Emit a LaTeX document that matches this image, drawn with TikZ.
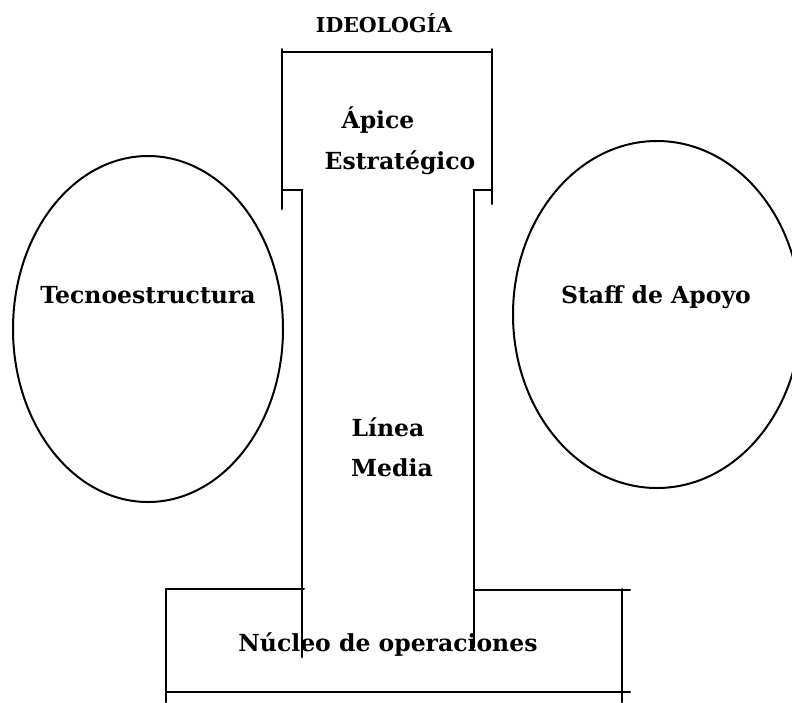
\documentclass[tikz,border=0pt]{standalone}
\usepackage{fontspec}
\setmainfont{DejaVu Serif}
\usetikzlibrary{shapes.geometric}
\begin{document}
\begin{tikzpicture}[x=1pt,y=-1pt,
  ln/.style={line width=2pt,line cap=round},
  lbl/.style={font=\bfseries\fontsize{23.5}{28}\selectfont,inner sep=0pt},
  oval/.style={draw,ellipse,line width=2pt,inner sep=0pt}]
\useasboundingbox (0,0) rectangle (792,702);
% top box
\draw[ln] (282,49) -- (282,209);
\draw[ln] (282,52) -- (492,52);
\draw[ln] (492,49) -- (492,204);
\draw[ln] (282,190) -- (302,190) -- (302,657);
\draw[ln] (492,190) -- (474,190) -- (474,647);
% bottom box
\draw[ln] (166,589) -- (304,589);
\draw[ln] (474,590) -- (630,590);
\draw[ln] (166,589) -- (166,702);
\draw[ln] (622,589) -- (622,702);
\draw[ln] (166,692) -- (630,692);
% ellipses
\node[oval,minimum width=270pt,minimum height=346pt] (tec) at (148,329) {};
\node[oval,minimum width=288pt,minimum height=347pt] (staff) at (657,314.5) {};
% labels
\node[lbl,font=\bfseries\fontsize{20.5}{24}\selectfont] (ideo) at (384,23) {IDEOLOGÍA};
\node[lbl] (apice) at (378,120) {Ápice};
\node[lbl] (estr) at (400,163) {Estratégico};
\node[lbl] (tecl) at (148,295) {Tecnoestructura};
\node[lbl] (stl) at (656,297) {Staff de Apoyo};
\node[lbl] (lin) at (388,427) {Línea};
\node[lbl] (med) at (392,468) {Media};
\node[lbl] (nuc) at (388,645) {Núcleo de operaciones};
\end{tikzpicture}
\end{document}
